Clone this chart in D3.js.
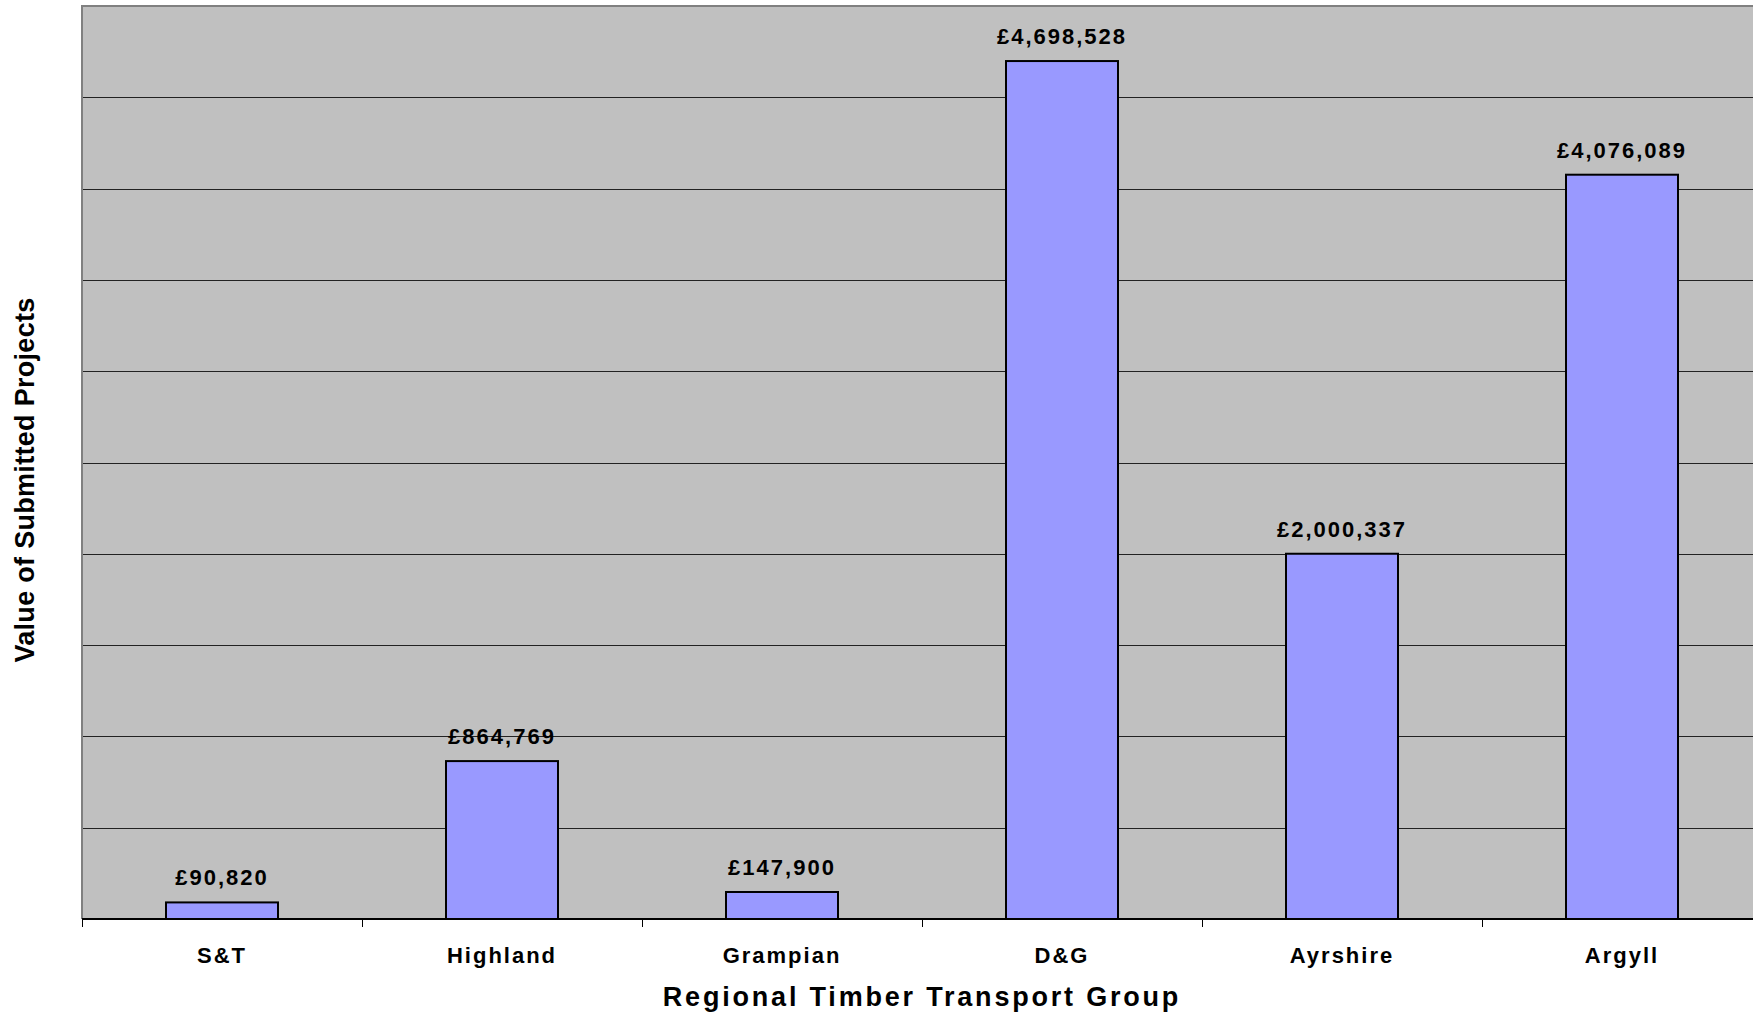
<!DOCTYPE html>
<html>
<head>
<meta charset="utf-8">
<script src="https://cdn.jsdelivr.net/npm/d3@7"></script>
<style>
  body { margin: 0; background: #fff; }
  text { font-family: Arial, "Liberation Sans", sans-serif; font-weight: bold; fill: #000; }
</style>
</head>
<body>
<svg id="chart" width="1753" height="1016"></svg>
<script>
// values
const groups = ["S&T", "Highland", "Grampian", "D&G", "Ayrshire", "Argyll"];
const values = [90820, 864769, 147900, 4698528, 2000337, 4076089];
const yMax = 5000000;
const yStep = 500000;

const svg = d3.select("#chart");

// plot area runs a little past the right edge, like the original
const plotL = 82, plotT = 6, plotB = 919, plotR = 1762;

const x = d3.scaleBand()
  .domain(groups)
  .range([plotL, plotR])
  .paddingInner(0.6)
  .paddingOuter(0.3);

const y = d3.scaleLinear()
  .domain([0, yMax])
  .range([plotB, plotT]);

// grey plot background
svg.append("rect")
  .attr("x", plotL)
  .attr("y", plotT)
  .attr("width", plotR - plotL)
  .attr("height", plotB - plotT)
  .attr("fill", "#c0c0c0");

// horizontal gridlines
const gridVals = d3.range(yStep, yMax, yStep);
svg.append("g")
  .selectAll("line")
  .data(gridVals)
  .enter()
  .append("line")
  .attr("x1", plotL)
  .attr("x2", plotR)
  .attr("y1", (d) => Math.round(y(d)) + 0.5)
  .attr("y2", (d) => Math.round(y(d)) + 0.5)
  .attr("stroke", "#222")
  .attr("stroke-width", 1);

// frame top / left in grey
svg.append("path")
  .attr("d", `M${plotL},${plotB} V${plotT} H${plotR}`)
  .attr("fill", "none")
  .attr("stroke", "#808080")
  .attr("stroke-width", 2);

// bars
svg.append("g")
  .selectAll("rect")
  .data(values)
  .enter()
  .append("rect")
  .attr("x", (d, i) => x(groups[i]))
  .attr("y", (d) => y(d))
  .attr("width", x.bandwidth())
  .attr("height", (d) => plotB - y(d))
  .attr("fill", "#9999ff")
  .attr("stroke", "#000")
  .attr("stroke-width", 2);

// value labels
const fmt = d3.format(",");
svg.append("g")
  .selectAll("text")
  .data(values)
  .enter()
  .append("text")
  .attr("x", (d, i) => x(groups[i]) + x.bandwidth() / 2)
  .attr("y", (d) => y(d) - 17)
  .attr("text-anchor", "middle")
  .style("font-size", "22px")
  .style("letter-spacing", "2px")
  .text((d) => "£" + fmt(d));

// x axis: line, ticks between categories, labels
const xAxis = svg.append("g");
xAxis.append("line")
  .attr("x1", plotL)
  .attr("x2", plotR)
  .attr("y1", plotB)
  .attr("y2", plotB)
  .attr("stroke", "#000")
  .attr("stroke-width", 2);

const tickPos = groups.map((g) => x(g) - x.step() * 0.3).concat([plotR]);
xAxis.selectAll("line.tick")
  .data(tickPos)
  .enter()
  .append("line")
  .attr("class", "tick")
  .attr("x1", (d) => Math.round(d) + 0.5)
  .attr("x2", (d) => Math.round(d) + 0.5)
  .attr("y1", plotB)
  .attr("y2", plotB + 8)
  .attr("stroke", "#000")
  .attr("stroke-width", 1);

xAxis.selectAll("text")
  .data(groups)
  .enter()
  .append("text")
  .attr("x", (d) => x(d) + x.bandwidth() / 2)
  .attr("y", 963)
  .attr("text-anchor", "middle")
  .style("font-size", "22px")
  .style("letter-spacing", "2px")
  .text((d) => d);

// axis titles
svg.append("text")
  .attr("x", (plotL + plotR) / 2)
  .attr("y", 1006)
  .attr("text-anchor", "middle")
  .style("font-size", "27px")
  .style("letter-spacing", "2.8px")
  .text("Regional Timber Transport Group");

svg.append("text")
  .attr("transform", "translate(34,480) rotate(-90)")
  .attr("text-anchor", "middle")
  .style("font-size", "27px")
  .style("letter-spacing", "0.3px")
  .text("Value of Submitted Projects");
</script>
</body>
</html>
